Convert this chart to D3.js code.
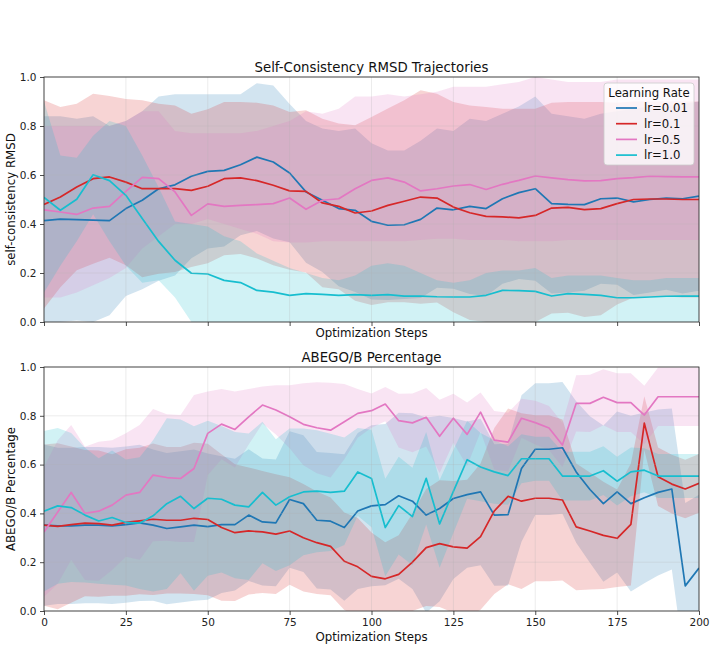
<!DOCTYPE html>
<html>
<head>
<meta charset="utf-8">
<script src="https://cdn.jsdelivr.net/npm/d3@7"></script>
<style>
  body { margin: 0; background: #fff; }
  svg { font-family: "DejaVu Sans", sans-serif; }
</style>
</head>
<body>
<svg id="chart" width="715" height="650"></svg>
<script>
// ---- data ----
var labels = ["lr=0.01", "lr=0.1", "lr=0.5", "lr=1.0"];
var colors = ["#1f77b4", "#d62728", "#e377c2", "#17becf"];
var xTicks = [0, 25, 50, 75, 100, 125, 150, 175, 200];
var yTicks = [0, 0.2, 0.4, 0.6, 0.8, 1.0];

// top panel: self-consistency RMSD (line + lower/upper band edge)
var rmsdSteps = [0,5,10,15,20,25,30,35,40,45,50,55,60,65,70,75,80,85,90,95,100,105,110,115,120,125,130,135,140,145,150,155,160,165,170,175,180,185,190,195,200];

var rmsdBlue   = [0.414,0.42,0.418,0.416,0.414,0.463,0.497,0.544,0.56,0.595,0.615,0.619,0.642,0.673,0.653,0.608,0.531,0.497,0.463,0.456,0.411,0.395,0.397,0.419,0.465,0.458,0.472,0.463,0.503,0.528,0.544,0.483,0.48,0.479,0.503,0.506,0.49,0.5,0.506,0.503,0.514];
var rmsdBlueLo = [0,0,0.006,0,0.028,0.106,0.134,0.168,0.19,0.26,0.30,0.308,0.354,0.371,0.341,0.326,0.242,0.204,0.146,0.122,0.092,0.09,0.094,0.098,0.14,0.136,0.114,0.106,0.156,0.176,0.168,0.116,0.12,0.128,0.156,0.152,0.11,0.12,0.132,0.116,0.128];
var rmsdBlueHi = [0.84,0.84,0.83,0.84,0.80,0.82,0.86,0.92,0.93,0.93,0.93,0.93,0.93,0.975,0.965,0.89,0.82,0.79,0.78,0.79,0.73,0.70,0.70,0.74,0.79,0.78,0.83,0.82,0.85,0.88,0.92,0.85,0.84,0.83,0.85,0.86,0.87,0.88,0.88,0.89,0.90];

var rmsdRed   = [0.48,0.51,0.551,0.585,0.592,0.571,0.544,0.544,0.544,0.537,0.554,0.585,0.588,0.577,0.558,0.535,0.533,0.486,0.472,0.445,0.453,0.476,0.493,0.51,0.506,0.469,0.446,0.431,0.429,0.425,0.435,0.465,0.468,0.459,0.463,0.483,0.5,0.502,0.502,0.5,0.5];
var rmsdRedLo = [0.055,0.142,0.211,0.238,0.262,0.232,0.183,0.197,0.204,0.224,0.24,0.272,0.278,0.259,0.232,0.213,0.202,0.142,0.134,0.087,0.069,0.081,0.081,0.074,0.08,0.04,0.008,0,0,0,0,0.035,0.038,0.02,0.028,0.071,0.1,0.104,0.104,0.1,0.1];
var rmsdRedHi = [0.905,0.878,0.891,0.932,0.922,0.91,0.905,0.891,0.884,0.85,0.868,0.898,0.898,0.895,0.884,0.857,0.864,0.83,0.81,0.803,0.837,0.871,0.905,0.946,0.932,0.898,0.884,0.878,0.87,0.87,0.87,0.895,0.898,0.898,0.898,0.895,0.9,0.9,0.9,0.9,0.9];

var rmsdPink   = [0.458,0.449,0.439,0.465,0.472,0.533,0.59,0.585,0.531,0.435,0.482,0.472,0.476,0.479,0.483,0.506,0.46,0.497,0.503,0.544,0.578,0.588,0.571,0.535,0.544,0.555,0.561,0.541,0.562,0.578,0.596,0.588,0.581,0.576,0.577,0.585,0.589,0.595,0.593,0.592,0.592];
var rmsdPinkLo = [0.10,0.10,0.12,0.15,0.18,0.22,0.30,0.35,0.40,0.40,0.42,0.40,0.38,0.36,0.33,0.325,0.325,0.33,0.33,0.33,0.33,0.33,0.33,0.335,0.34,0.34,0.335,0.335,0.335,0.33,0.33,0.33,0.335,0.335,0.335,0.335,0.335,0.335,0.335,0.335,0.335];
var rmsdPinkHi = [0.80,0.80,0.80,0.80,0.80,0.82,0.86,0.86,0.78,0.77,0.77,0.77,0.77,0.78,0.80,0.82,0.86,0.85,0.87,0.92,0.92,0.93,0.92,0.93,0.94,0.96,0.96,0.96,0.97,0.98,1.0,0.99,0.98,0.98,0.98,0.99,0.99,0.99,0.99,0.99,0.99];

var rmsdCyan   = [0.509,0.456,0.501,0.601,0.577,0.517,0.422,0.329,0.252,0.199,0.196,0.17,0.161,0.129,0.122,0.109,0.116,0.113,0.109,0.112,0.109,0.112,0.106,0.106,0.103,0.102,0.102,0.109,0.129,0.128,0.125,0.106,0.116,0.113,0.109,0.099,0.099,0.102,0.105,0.106,0.106];
var rmsdCyanLo = [0.12,0.23,0.33,0.44,0.33,0.23,0.16,0.17,0.10,0,0,0,0,0,0,0,0,0,0,0,0,0,0,0,0,0,0,0,0,0,0,0,0,0,0,0,0,0,0,0,0];
var rmsdCyanHi = [0.9,0.68,0.67,0.76,0.82,0.8,0.68,0.55,0.41,0.40,0.39,0.35,0.33,0.28,0.25,0.22,0.2,0.18,0.17,0.19,0.23,0.24,0.23,0.2,0.17,0.16,0.17,0.2,0.21,0.21,0.22,0.18,0.19,0.19,0.19,0.18,0.17,0.17,0.18,0.18,0.18];

// bottom panel: ABEGO/B percentage (mean and std)
var abegoSteps = [0,4.2,8.3,12.5,16.7,20.8,25,29.2,33.3,37.5,41.7,45.8,50,54.2,58.3,62.5,66.7,70.8,75,79.2,83.3,87.5,91.7,95.8,100,104.2,108.3,112.5,116.7,120.8,125,129.2,133.3,137.5,141.7,145.8,150,154.2,158.3,162.5,166.7,170.8,175,179.2,183.3,187.5,191.7,195.8,200];

var abegoBlue    = [0.352,0.349,0.349,0.352,0.352,0.349,0.354,0.361,0.352,0.338,0.345,0.352,0.346,0.354,0.354,0.393,0.365,0.361,0.457,0.44,0.372,0.368,0.342,0.41,0.431,0.436,0.472,0.45,0.393,0.42,0.461,0.477,0.488,0.393,0.395,0.584,0.663,0.663,0.669,0.57,0.498,0.44,0.488,0.44,0.464,0.486,0.5,0.103,0.176];
var abegoBlueStd = [0.33,0.32,0.32,0.32,0.32,0.32,0.32,0.32,0.31,0.31,0.31,0.31,0.3,0.28,0.27,0.27,0.26,0.26,0.28,0.28,0.28,0.28,0.3,0.32,0.33,0.33,0.34,0.36,0.4,0.38,0.33,0.3,0.3,0.29,0.29,0.3,0.27,0.27,0.27,0.29,0.3,0.32,0.33,0.36,0.35,0.34,0.33,0.34,0.3];

var abegoRed    = [0.352,0.347,0.354,0.36,0.358,0.352,0.363,0.369,0.376,0.372,0.372,0.38,0.375,0.342,0.321,0.328,0.324,0.315,0.328,0.3,0.28,0.265,0.204,0.181,0.142,0.132,0.15,0.2,0.26,0.276,0.263,0.258,0.305,0.41,0.47,0.45,0.462,0.462,0.455,0.345,0.328,0.31,0.298,0.355,0.77,0.55,0.52,0.5,0.523];
var abegoRedStd = [0.33,0.34,0.32,0.3,0.3,0.29,0.3,0.3,0.31,0.3,0.3,0.31,0.31,0.3,0.28,0.26,0.25,0.245,0.22,0.22,0.21,0.2,0.2,0.2,0.18,0.15,0.16,0.2,0.24,0.26,0.27,0.28,0.3,0.34,0.36,0.36,0.34,0.34,0.33,0.26,0.24,0.22,0.2,0.25,0.11,0.12,0.12,0.12,0.12];

var abegoPink    = [0.324,0.406,0.486,0.40,0.409,0.434,0.475,0.486,0.557,0.547,0.543,0.584,0.728,0.766,0.744,0.796,0.844,0.824,0.796,0.765,0.751,0.741,0.776,0.81,0.821,0.848,0.78,0.771,0.794,0.716,0.79,0.724,0.815,0.70,0.692,0.79,0.772,0.75,0.68,0.851,0.851,0.876,0.854,0.854,0.803,0.878,0.878,0.878,0.878];
var abegoPinkStd = [0.266,0.294,0.276,0.273,0.285,0.266,0.253,0.276,0.271,0.259,0.26,0.301,0.172,0.144,0.156,0.114,0.076,0.101,0.129,0.168,0.186,0.194,0.154,0.1,0.07,0.07,0.11,0.12,0.12,0.15,0.1,0.13,0.08,0.12,0.12,0.08,0.09,0.09,0.09,0.115,0.117,0.115,0.12,0.12,0.12,0.12,0.12,0.12,0.12];

var abegoCyan    = [0.409,0.431,0.424,0.393,0.369,0.383,0.363,0.36,0.39,0.44,0.47,0.42,0.462,0.458,0.434,0.427,0.486,0.434,0.468,0.488,0.491,0.486,0.491,0.57,0.543,0.342,0.432,0.387,0.544,0.357,0.49,0.62,0.59,0.57,0.555,0.624,0.624,0.624,0.553,0.553,0.553,0.575,0.532,0.57,0.577,0.553,0.553,0.553,0.553];
var abegoCyanStd = [0.329,0.319,0.305,0.276,0.257,0.275,0.258,0.27,0.31,0.35,0.315,0.337,0.318,0.3,0.3,0.3,0.29,0.27,0.28,0.26,0.25,0.24,0.22,0.18,0.2,0.2,0.2,0.2,0.19,0.18,0.17,0.16,0.14,0.13,0.12,0.1,0.09,0.09,0.1,0.1,0.1,0.1,0.1,0.1,0.09,0.09,0.09,0.09,0.09];

// ---- build series tables ----
function rows(steps, mean, lo, hi) {
  return steps.map(function(s, i) { return {x: s, y: mean[i], lo: lo[i], hi: hi[i]}; });
}
function rowsStd(steps, mean, std) {
  return steps.map(function(s, i) { return {x: s, y: mean[i], lo: mean[i] - std[i], hi: mean[i] + std[i]}; });
}

var panels = [
  {
    title: "Self-Consistency RMSD Trajectories",
    ylabel: "self-consistency RMSD",
    top: 77, bottom: 322, tickLabels: false, legend: true,
    series: [
      rows(rmsdSteps, rmsdBlue, rmsdBlueLo, rmsdBlueHi),
      rows(rmsdSteps, rmsdRed, rmsdRedLo, rmsdRedHi),
      rows(rmsdSteps, rmsdPink, rmsdPinkLo, rmsdPinkHi),
      rows(rmsdSteps, rmsdCyan, rmsdCyanLo, rmsdCyanHi)
    ]
  },
  {
    title: "ABEGO/B Percentage",
    ylabel: "ABEGO/B Percentage",
    top: 367, bottom: 611, tickLabels: true, legend: false,
    series: [
      rowsStd(abegoSteps, abegoBlue, abegoBlueStd),
      rowsStd(abegoSteps, abegoRed, abegoRedStd),
      rowsStd(abegoSteps, abegoPink, abegoPinkStd),
      rowsStd(abegoSteps, abegoCyan, abegoCyanStd)
    ]
  }
];

var svg = d3.select("#chart");
var left = 44, right = 699;

var x = d3.scaleLinear().domain([0, 200]).range([left, right]);

panels.forEach(function(p, pi) {
  var y = d3.scaleLinear().domain([0, 1]).range([p.bottom, p.top]);
  var g = svg.append("g");

  var clipId = "clip" + pi;
  svg.append("clipPath").attr("id", clipId)
    .append("rect")
    .attr("x", left).attr("y", p.top)
    .attr("width", right - left).attr("height", p.bottom - p.top);

  var plot = g.append("g").attr("clip-path", "url(#" + clipId + ")");

  var area = d3.area()
    .x(function(d) { return x(d.x); })
    .y0(function(d) { return y(d.lo); })
    .y1(function(d) { return y(d.hi); });
  var line = d3.line()
    .x(function(d) { return x(d.x); })
    .y(function(d) { return y(d.y); });

  p.series.forEach(function(s, i) {
    plot.append("path")
      .datum(s)
      .attr("d", area)
      .attr("fill", colors[i])
      .attr("fill-opacity", 0.2)
      .attr("stroke", "none");
  });

  // grid
  var grid = g.append("g").attr("stroke", "#b0b0b0").attr("stroke-opacity", 0.3).attr("stroke-width", 0.8);
  xTicks.forEach(function(t) {
    grid.append("line").attr("x1", x(t)).attr("x2", x(t)).attr("y1", p.top).attr("y2", p.bottom);
  });
  yTicks.forEach(function(t) {
    grid.append("line").attr("x1", left).attr("x2", right).attr("y1", y(t)).attr("y2", y(t));
  });

  p.series.forEach(function(s, i) {
    plot.append("path")
      .datum(s)
      .attr("d", line)
      .attr("fill", "none")
      .attr("stroke", colors[i])
      .attr("stroke-width", 1.7)
      .attr("stroke-linejoin", "round");
  });

  // axes
  var xAxis = d3.axisBottom(x).tickValues(xTicks).tickSize(4).tickPadding(3.5)
    .tickFormat(p.tickLabels ? d3.format("d") : function() { return ""; });
  var yAxis = d3.axisLeft(y).tickValues(yTicks).tickSize(4).tickPadding(3.5)
    .tickFormat(d3.format(".1f"));

  var gx = g.append("g").attr("transform", "translate(0," + p.bottom + ")").call(xAxis);
  var gy = g.append("g").attr("transform", "translate(" + left + ",0)").call(yAxis);
  [gx, gy].forEach(function(a) {
    a.select(".domain").remove();
    a.selectAll(".tick line").attr("stroke", "#222").attr("stroke-width", 0.8);
    a.selectAll(".tick text").attr("fill", "#222").style("font-size", "10.5px")
      .style("font-family", "DejaVu Sans, sans-serif");
  });

  g.append("rect")
    .attr("x", left).attr("y", p.top)
    .attr("width", right - left).attr("height", p.bottom - p.top)
    .attr("fill", "none").attr("stroke", "#222").attr("stroke-width", 0.8);

  // titles and labels
  g.append("text")
    .attr("x", (left + right) / 2).attr("y", p.top - 5)
    .attr("text-anchor", "middle").attr("fill", "#111")
    .style("font-size", "13.3px").text(p.title);

  g.append("text")
    .attr("x", (left + right) / 2).attr("y", p.tickLabels ? p.bottom + 30 : p.bottom + 15)
    .attr("text-anchor", "middle").attr("fill", "#111")
    .style("font-size", "11.8px").text("Optimization Steps");

  g.append("text")
    .attr("transform", "translate(15," + ((p.top + p.bottom) / 2) + ") rotate(-90)")
    .attr("text-anchor", "middle").attr("fill", "#111")
    .style("font-size", "11.8px").text(p.ylabel);

  if (p.legend) {
    var lg = g.append("g").attr("transform", "translate(604,83)");
    lg.append("rect")
      .attr("width", 90).attr("height", 82).attr("rx", 3)
      .attr("fill", "#fff").attr("fill-opacity", 0.8)
      .attr("stroke", "#cccccc").attr("stroke-width", 0.8);
    lg.append("text")
      .attr("x", 45).attr("y", 13.5)
      .attr("text-anchor", "middle").attr("fill", "#111")
      .style("font-size", "11.7px").text("Learning Rate");
    labels.forEach(function(lbl, i) {
      var ry = 25 + i * 15.7;
      lg.append("line")
        .attr("x1", 12).attr("x2", 33).attr("y1", ry).attr("y2", ry)
        .attr("stroke", colors[i]).attr("stroke-width", 1.7);
      lg.append("text")
        .attr("x", 40).attr("y", ry + 4.2)
        .attr("fill", "#111").style("font-size", "11.7px").text(lbl);
    });
  }
});
</script>
</body>
</html>
